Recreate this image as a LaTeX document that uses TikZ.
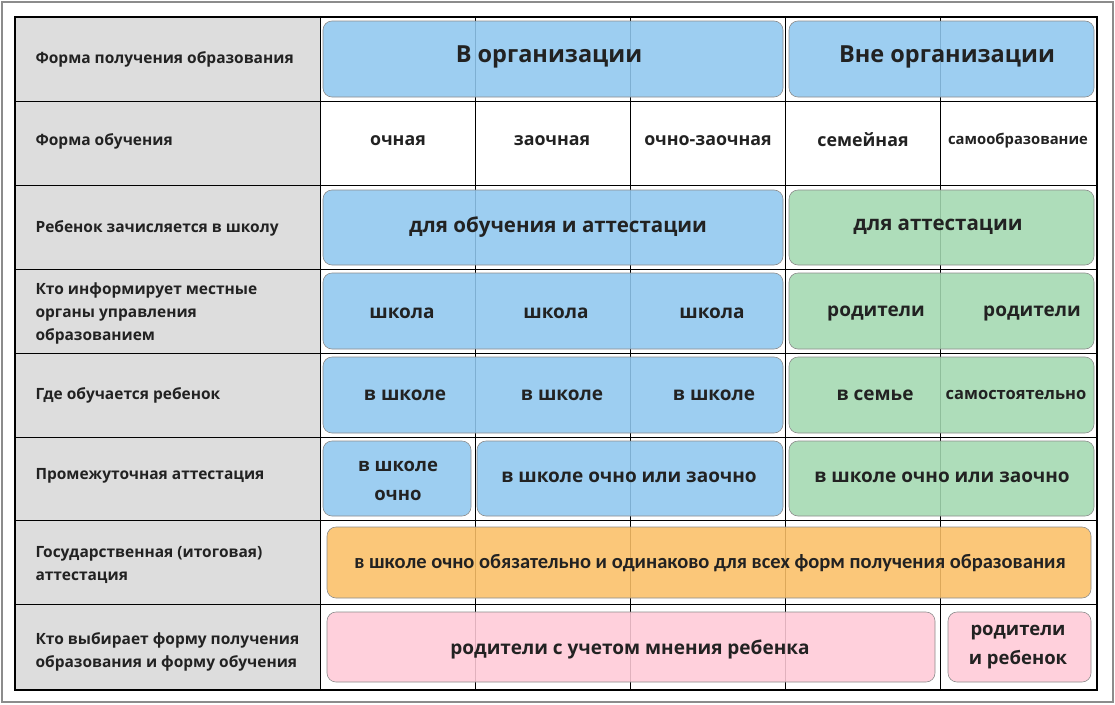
\documentclass[tikz,border=0pt]{standalone}
\usepackage{fontspec}
\setmainfont{Open Sans}
\newfontfamily\cond{Carlito}
\definecolor{cblue}{HTML}{90C8F0}
\definecolor{cgreen}{HTML}{A3D9B1}
\definecolor{corange}{HTML}{FBC067}
\definecolor{cpink}{HTML}{FFCAD8}
\definecolor{cgrey}{HTML}{DDDDDD}
\definecolor{ctext}{HTML}{222222}
\begin{document}
\begin{tikzpicture}[x=1pt,y=-1pt,
  cellbox/.style={rounded corners=9pt,draw=black!45,line width=0.6pt,fill opacity=0.88,text opacity=1},
  lab/.style={anchor=west,align=left,font=\bfseries\fontsize{15.5}{23}\selectfont,text=ctext},
  big/.style={font=\bfseries\fontsize{23.5}{28}\selectfont,text=ctext},
  mid/.style={font=\bfseries\fontsize{19}{28}\selectfont,text=ctext,align=center},
  sm/.style={font=\bfseries\fontsize{17.8}{22}\selectfont,text=ctext}]
\useasboundingbox (0,0) rectangle (1115,704);
\fill[white] (0,0) rectangle (1115,704);
\draw[black!45,line width=2pt] (2,2) rectangle (1113,702);
\fill[cgrey] (15,17) rectangle (320,690);
% grid
\foreach \x in {320,475,630,785,940}{\draw[line width=1pt] (\x,17) -- (\x,690);}
\foreach \y in {101,185,269,353,437,520,604}{\draw[line width=1pt] (15,\y) -- (1097,\y);}
\draw[line width=1.2pt] (15,17) rectangle (1097,690);
% labels
\node[lab] (l1) at (32,59) {Форма получения образования};
\node[lab] (l2) at (32,141) {Форма обучения};
\node[lab] (l3) at (32,228) {Ребенок зачисляется в школу};
\node[lab] (l4) at (32,313) {Кто информирует местные\\органы управления\\образованием};
\node[lab] (l5) at (32,395) {Где обучается ребенок};
\node[lab] (l6) at (32,476) {Промежуточная аттестация};
\node[lab] (l7) at (32,565) {Государственная (итоговая)\\аттестация};
\node[lab] (l8) at (32,652) {Кто выбирает форму получения\\образования и форму обучения};
% row1
\draw[cellbox,fill=cblue] (323,21) rectangle (783,97);
\draw[cellbox,fill=cblue] (789,21) rectangle (1094,97);
\node[big] (a1) at (549,57) {В организации};
\node[big] (a2) at (947,57) {Вне организации};
% row2
\node[sm] (b1) at (398,141) {очная};
\node[sm] (b2) at (552,141) {заочная};
\node[sm] (b3) at (708,141) {очно-заочная};
\node[sm] (b4) at (863,140) {семейная};
\node[sm,font=\bfseries\fontsize{14.8}{18}\selectfont] (b5) at (1018,141) {самообразование};
% row3
\draw[cellbox,fill=cblue] (323,190) rectangle (783,265);
\draw[cellbox,fill=cgreen] (789,190) rectangle (1094,265);
\node[mid,font=\bfseries\fontsize{20.5}{26}\selectfont] (c1) at (558,227) {для обучения и аттестации};
\node[mid,font=\bfseries\fontsize{20.5}{26}\selectfont] (c2) at (938,227) {для аттестации};
% row4
\draw[cellbox,fill=cblue] (323,273) rectangle (783,349);
\draw[cellbox,fill=cgreen] (789,273) rectangle (1094,349);
\node[mid] (d1) at (402,313) {школа};
\node[mid] (d2) at (556,313) {школа};
\node[mid] (d3) at (712,313) {школа};
\node[mid] (d4) at (876,313) {родители};
\node[mid] (d5) at (1032,313) {родители};
% row5
\draw[cellbox,fill=cblue] (323,357) rectangle (783,433);
\draw[cellbox,fill=cgreen] (789,357) rectangle (1094,433);
\node[mid] (e1) at (405,395) {в школе};
\node[mid] (e2) at (562,395) {в школе};
\node[mid] (e3) at (714,395) {в школе};
\node[mid] (e4) at (875,395) {в семье};
\node[mid,font=\bfseries\fontsize{16.5}{20}\selectfont] (e5) at (1016,395) {самостоятельно};
% row6
\draw[cellbox,fill=cblue] (323,441) rectangle (471,516);
\draw[cellbox,fill=cblue] (477,441) rectangle (783,516);
\draw[cellbox,fill=cgreen] (789,441) rectangle (1094,516);
\node[mid,font=\bfseries\fontsize{18.5}{29}\selectfont] (f1) at (398,481) {в школе\\очно};
\node[mid] (f2) at (629,477) {в школе очно или заочно};
\node[mid] (f3) at (942,477) {в школе очно или заочно};
% row7
\draw[cellbox,fill=corange] (327,527) rectangle (1091,598);
\node[text=ctext,font=\cond\bfseries\fontsize{20.5}{24}\selectfont] (g1) at (710,563) {в школе очно обязательно и одинаково для всех форм получения образования};
% row8
\draw[cellbox,fill=cpink] (327,612) rectangle (935,682);
\draw[cellbox,fill=cpink] (948,612) rectangle (1091,682);
\node[mid] (h1) at (630,649) {родители с учетом мнения ребенка};
\node[mid,font=\bfseries\fontsize{18.5}{29}\selectfont] (h2) at (1018,647) {родители\\и ребенок};
\end{tikzpicture}
\end{document}
